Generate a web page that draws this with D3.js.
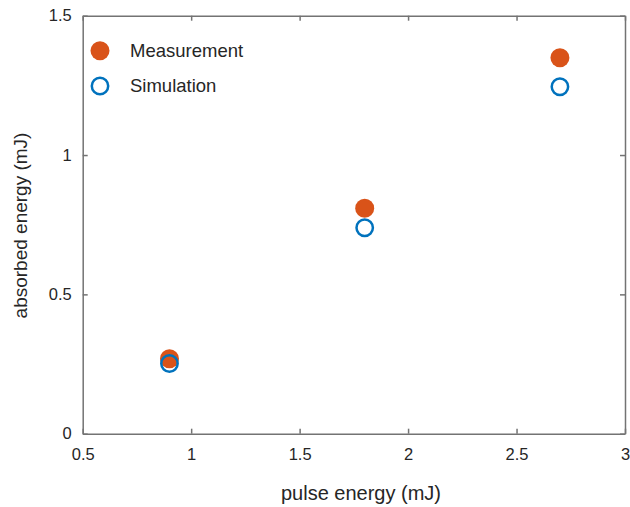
<!DOCTYPE html>
<html>
<head>
<meta charset="utf-8">
<script src="https://cdn.jsdelivr.net/npm/d3@7"></script>
<style>
  body { margin: 0; background: #fff; }
  text { font-family: "Liberation Sans", Arial, sans-serif; fill: #262626; }
</style>
</head>
<body>
<div id="chart"></div>
<script>
// data
var pulseEnergy = [0.9, 1.8, 2.7];
var measurement = [0.269, 0.809, 1.349];
var simulation = [0.252, 0.739, 1.245];
var xTicks = [0.5, 1, 1.5, 2, 2.5, 3];
var yTicks = [0, 0.5, 1, 1.5];
var seriesNames = ["Measurement", "Simulation"];

var width = 630;
var height = 507;
var margin = {top: 15.7, right: 5, bottom: 73.3, left: 82.7};
var orange = "#D95319", blue = "#0072BD", axisColor = "#737373";

var svg = d3.select("#chart")
    .append("svg")
    .attr("width", width)
    .attr("height", height);

var x = d3.scaleLinear().domain([0.5, 3]).range([margin.left, width - margin.right]);
var y = d3.scaleLinear().domain([0, 1.5]).range([height - margin.bottom, margin.top]);

var fmt = d => d3.format("")(d);

// axes, ticks pointing inward
var xAxis = g => g
    .attr("transform", `translate(0,${y(0)})`)
    .call(d3.axisBottom(x).tickValues(xTicks).tickSize(-5).tickSizeOuter(0).tickPadding(15).tickFormat(fmt))
var yAxis = g => g
    .attr("transform", `translate(${x(0.5)},0)`)
    .call(d3.axisLeft(y).tickValues(yTicks).tickSize(-5).tickSizeOuter(0).tickPadding(11).tickFormat(fmt))
var xTop = g => g
    .attr("transform", `translate(0,${y(1.5)})`)
    .call(d3.axisTop(x).tickValues(xTicks).tickSize(-5).tickSizeOuter(0).tickFormat(""))
var yRight = g => g
    .attr("transform", `translate(${x(3)},0)`)
    .call(d3.axisRight(y).tickValues(yTicks).tickSize(-5).tickSizeOuter(0).tickFormat(""))

svg.append("g").call(xAxis);
svg.append("g").call(yAxis);
svg.append("g").call(xTop);
svg.append("g").call(yRight);

svg.selectAll(".domain").attr("stroke", axisColor).attr("stroke-width", 1.5);
svg.selectAll(".tick line").attr("stroke", axisColor).attr("stroke-width", 1.5);
svg.selectAll(".tick text")
    .attr("font-size", 16.5)
    .attr("font-family", "Liberation Sans, Arial, sans-serif")
    .attr("fill", "#262626");

// axis labels
svg.append("text")
    .attr("x", 361)
    .attr("y", 500)
    .attr("text-anchor", "middle")
    .attr("font-size", 20)
    .text("pulse energy (mJ)");

svg.append("text")
    .attr("transform", "translate(27,225.5) rotate(-90)")
    .attr("text-anchor", "middle")
    .attr("font-size", 19)
    .text("absorbed energy (mJ)");

// points
svg.append("g")
    .selectAll("circle")
    .data(pulseEnergy)
    .join("circle")
      .attr("cx", d => x(d))
      .attr("cy", (d, i) => y(measurement[i]))
      .attr("r", 9.5)
      .attr("fill", orange);

svg.append("g")
    .selectAll("circle")
    .data(pulseEnergy)
    .join("circle")
      .attr("cx", d => x(d))
      .attr("cy", (d, i) => y(simulation[i]))
      .attr("r", 8.2)
      .attr("fill", "none")
      .attr("stroke", blue)
      .attr("stroke-width", 2.5);

// legend
var legend = svg.append("g")
    .selectAll("g")
    .data(seriesNames)
    .join("g")
      .attr("transform", (d, i) => `translate(100,${50.7 + i * 35.3})`);

legend.append("circle")
    .attr("r", (d, i) => i == 0 ? 9.5 : 8.2)
    .attr("fill", (d, i) => i == 0 ? orange : "none")
    .attr("stroke", (d, i) => i == 0 ? "none" : blue)
    .attr("stroke-width", 2.5);

legend.append("text")
    .attr("x", 30)
    .attr("dy", "0.35em")
    .attr("font-size", 18.5)
    .text(d => d);
</script>
</body>
</html>
